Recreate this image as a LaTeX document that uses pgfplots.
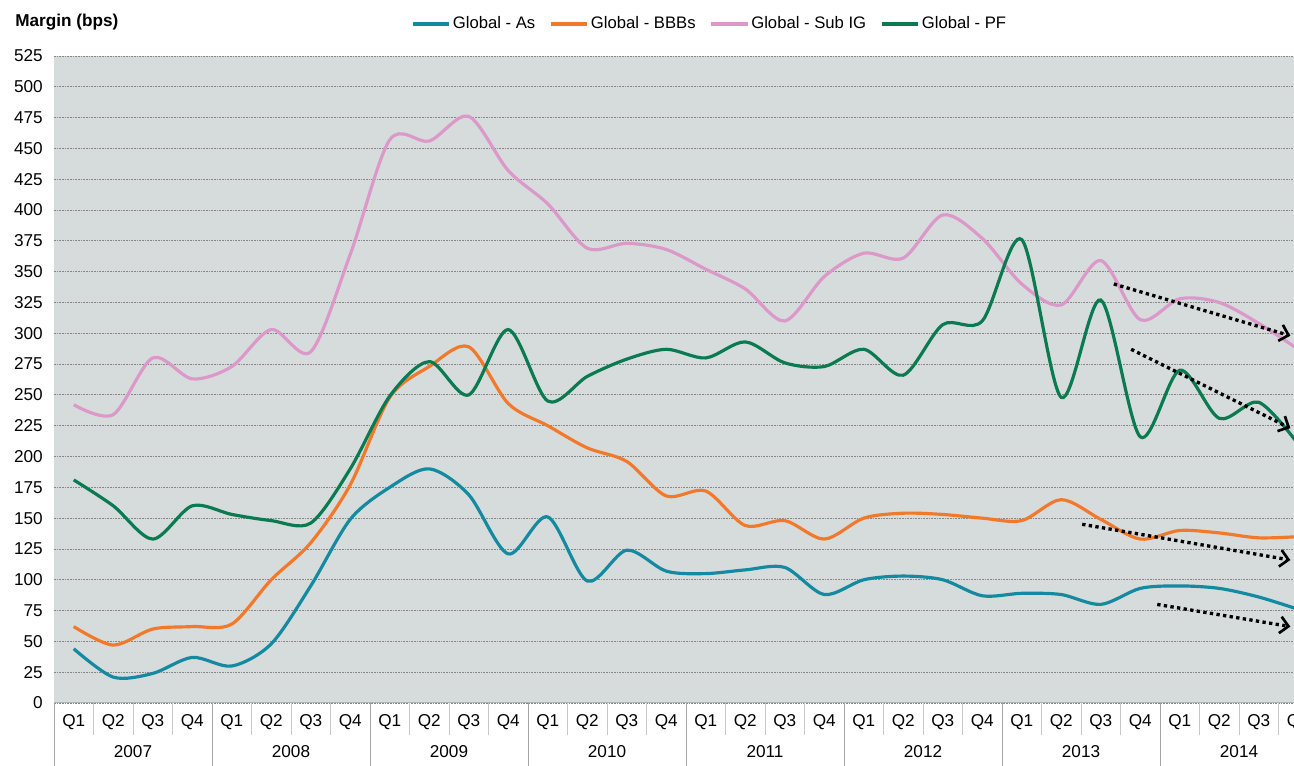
\documentclass[border=0pt]{standalone}
\usepackage{fontspec}
\setmainfont{Liberation Sans}
\usepackage{pgfplots}
\pgfplotsset{compat=1.18}
\usepackage{pgfplotstable}
\usetikzlibrary{arrows.meta}

\definecolor{plotbg}{RGB}{214,219,220}
\definecolor{gridc}{RGB}{135,135,135}
\definecolor{cAs}{RGB}{20,138,160}
\definecolor{cBBB}{RGB}{243,121,42}
\definecolor{cSub}{RGB}{221,152,202}
\definecolor{cPF}{RGB}{10,122,80}
\definecolor{qdiv}{RGB}{200,200,200}
\definecolor{ydiv}{RGB}{165,165,165}

\pgfplotstableread{
i As BBB Sub PF
0 44 62 242 181
1 21 47 234 160
2 24 60 280 133
3 37 62 263 160
4 30 64 273 153
5 48 100 303 148
6 95 130 285 146
7 149 177 364 190
8 175 248 457 249
9 190 273 456 277
10 169 289 476 250
11 121 243 432 303
12 151 225 405 245
13 99 207 369 265
14 124 196 373 279
15 107 168 368 287
16 105 172 352 280
17 108 144 336 293
18 110 148 310 276
19 88 133 346 273
20 100 150 365 287
21 103 154 361 266
22 100 153 396 307
23 87 150 377 310
24 89 148 340 376
25 88 165 323 248
26 80 149 359 327
27 93 133 311 216
28 95 140 328 270
29 93 138 325 231
30 86 134 308 244
31 76 135 287 210
}\datatable

\tikzset{trend/.style={black, line width=2pt, dash pattern=on 2pt off 2pt,
  -{Straight Barb[length=5pt,width=10pt,line width=1.6pt]}}}

\begin{document}
\begin{tikzpicture}
\begin{axis}[
  name=ax, at={(0,0)}, anchor=south west,
  scale only axis, width=758.4pt, height=388.2pt,
  xmin=-0.5, xmax=31.5, ymin=0, ymax=525,
  ytick={0,25,...,525},
  xtick={0,...,31},
  xticklabels={Q1,Q2,Q3,Q4,Q1,Q2,Q3,Q4,Q1,Q2,Q3,Q4,Q1,Q2,Q3,Q4,Q1,Q2,Q3,Q4,Q1,Q2,Q3,Q4,Q1,Q2,Q3,Q4,Q1,Q2,Q3,Q4},
  major tick length=0pt,
  axis line style={draw=none},
  axis background/.style={fill=plotbg},
  ymajorgrids,
  grid style={gridc, line width=0.5pt, dash pattern=on 1pt off 0.6pt},
  tick label style={font=\fontsize{10.3}{12}\selectfont},
  /pgf/number format/assume math mode=true,
  yticklabel style={anchor=east, inner sep=0pt, xshift=-6.6pt},
  xticklabel style={anchor=center, inner sep=0pt, yshift=-11.4pt},
  legend style={at={(0.5186,1.0495)}, anchor=center, draw=none, fill=none,
    font=\fontsize{10}{12}\selectfont, inner sep=0pt,
    nodes={inner sep=1.2pt},
    /tikz/every even column/.append style={column sep=7pt}},
  legend columns=4,
  legend cell align=left,
  legend image code/.code={\draw[#1, line width=2pt] (0pt,0pt) -- (22pt,0pt);},
]
\addplot[cAs, line width=1.9pt, smooth, tension=0.5] table[x=i,y=As]{\datatable};
\addlegendentry{Global - As}
\addplot[cBBB, line width=1.9pt, smooth, tension=0.5] table[x=i,y=BBB]{\datatable};
\addlegendentry{Global - BBBs}
\addplot[cSub, line width=1.9pt, smooth, tension=0.5] table[x=i,y=Sub]{\datatable};
\addlegendentry{Global - Sub IG}
\addplot[cPF, line width=1.9pt, smooth, tension=0.5] table[x=i,y=PF]{\datatable};
\addlegendentry{Global - PF}

\draw[trend] (axis cs:26.33,340) -- (axis cs:30.8,298);
\draw[trend] (axis cs:26.77,287) -- (axis cs:30.8,223);
\draw[trend] (axis cs:25.53,145) -- (axis cs:30.8,116);
\draw[trend] (axis cs:27.43,80) -- (axis cs:30.8,62);
\end{axis}

\draw[gray!60, line width=0.6pt] (0,0) -- (758.4pt,0);
\foreach \k in {0,...,32} \draw[qdiv, line width=0.6pt] (\k*23.7pt,0) -- (\k*23.7pt,-19.2pt);
\foreach \k in {0,4,...,32} \draw[ydiv, line width=0.6pt] (\k*23.7pt,0) -- (\k*23.7pt,-37.8pt);
\foreach \j/\yr in {0/2007,1/2008,2/2009,3/2010,4/2011,5/2012,6/2013,7/2014}
  \node[font=\fontsize{10.3}{12}\selectfont, inner sep=0pt] at ({(4*\j+2)*23.7pt},-29.4pt) {\yr};
\node[anchor=west, inner sep=0pt, font=\fontsize{10.3}{12}\selectfont\bfseries] at (-23.4pt,408.6pt) {Margin (bps)};

\pgfresetboundingbox
\useasboundingbox (-32.4pt,-37.8pt) rectangle (744pt,421.8pt);
\end{tikzpicture}
\end{document}
